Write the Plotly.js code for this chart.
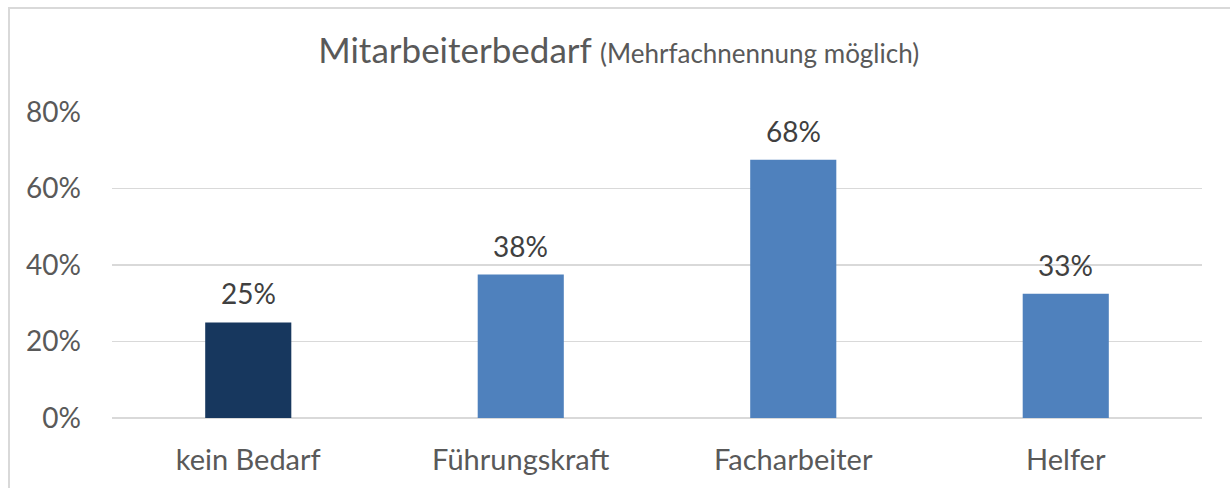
<!DOCTYPE html>
<html>
<head>
<meta charset="utf-8">
<script src="https://cdn.plot.ly/plotly-3.0.1.min.js"></script>
<style>
body{margin:0;padding:0;background:#fff;}
#wrap{position:relative;width:1230px;height:488px;overflow:hidden;}
#chart{width:1230px;height:488px;}
#frame{position:absolute;left:8px;top:7px;width:1240px;height:500px;border:2px solid #D9D9D9;pointer-events:none;}
</style>
</head>
<body>
<div id="wrap"><div id="chart"></div><div id="frame"></div></div>
<script>
const categories = ["kein Bedarf", "Führungskraft", "Facharbeiter", "Helfer"];
const values = [25, 37.5, 67.5, 32.5];
const labels = ["25%", "38%", "68%", "33%"];
const barColors = ["#17375E", "#4F81BD", "#4F81BD", "#4F81BD"];
const tickVals = [0, 20, 40, 60, 80];
const tickText = ["0%", "20%", "40%", "60%", "80%"];

const font = "Lato, 'Open Sans', sans-serif";
const textColor = "#595959";

const trace = {
  type: "bar",
  x: categories,
  y: values,
  marker: {color: barColors},
  width: 0.316,
  hoverinfo: "skip"
};

const annotations = categories.map((c, i) => ({
  x: c, y: values[i], xref: "x", yref: "y",
  text: labels[i], showarrow: false,
  yanchor: "bottom", yshift: 10,
  font: {family: font, size: 28, color: "#404040"}
}));

const layout = {
  width: 1230, height: 488,
  margin: {l: 112, r: 28, t: 112, b: 70},
  paper_bgcolor: "#fff", plot_bgcolor: "#fff",
  showlegend: false,
  title: {
    text: "Mitarbeiterbedarf <span style='font-size:26px'>(Mehrfachnennung möglich)</span>",
    x: 0.503, xanchor: "center", y: 0.895, yanchor: "middle",
    font: {family: font, size: 35, color: textColor}
  },
  xaxis: {
    range: [-0.5, 3.5],
    showgrid: false, zeroline: false, showline: false,
    ticks: "", ticklabelstandoff: 22,
    tickfont: {family: font, size: 29, color: textColor}
  },
  yaxis: {
    range: [0, 80],
    tickvals: tickVals, ticktext: tickText,
    showgrid: true, gridcolor: "#D9D9D9", gridwidth: 1.5,
    zeroline: true, zerolinecolor: "#D9D9D9", zerolinewidth: 1.5,
    showline: false, ticks: "", ticklabelstandoff: 30,
    tickfont: {family: font, size: 28, color: textColor}
  },
  annotations: annotations
};

Plotly.newPlot("chart", [trace], layout, {staticPlot: true, displayModeBar: false});
</script>
</body>
</html>
